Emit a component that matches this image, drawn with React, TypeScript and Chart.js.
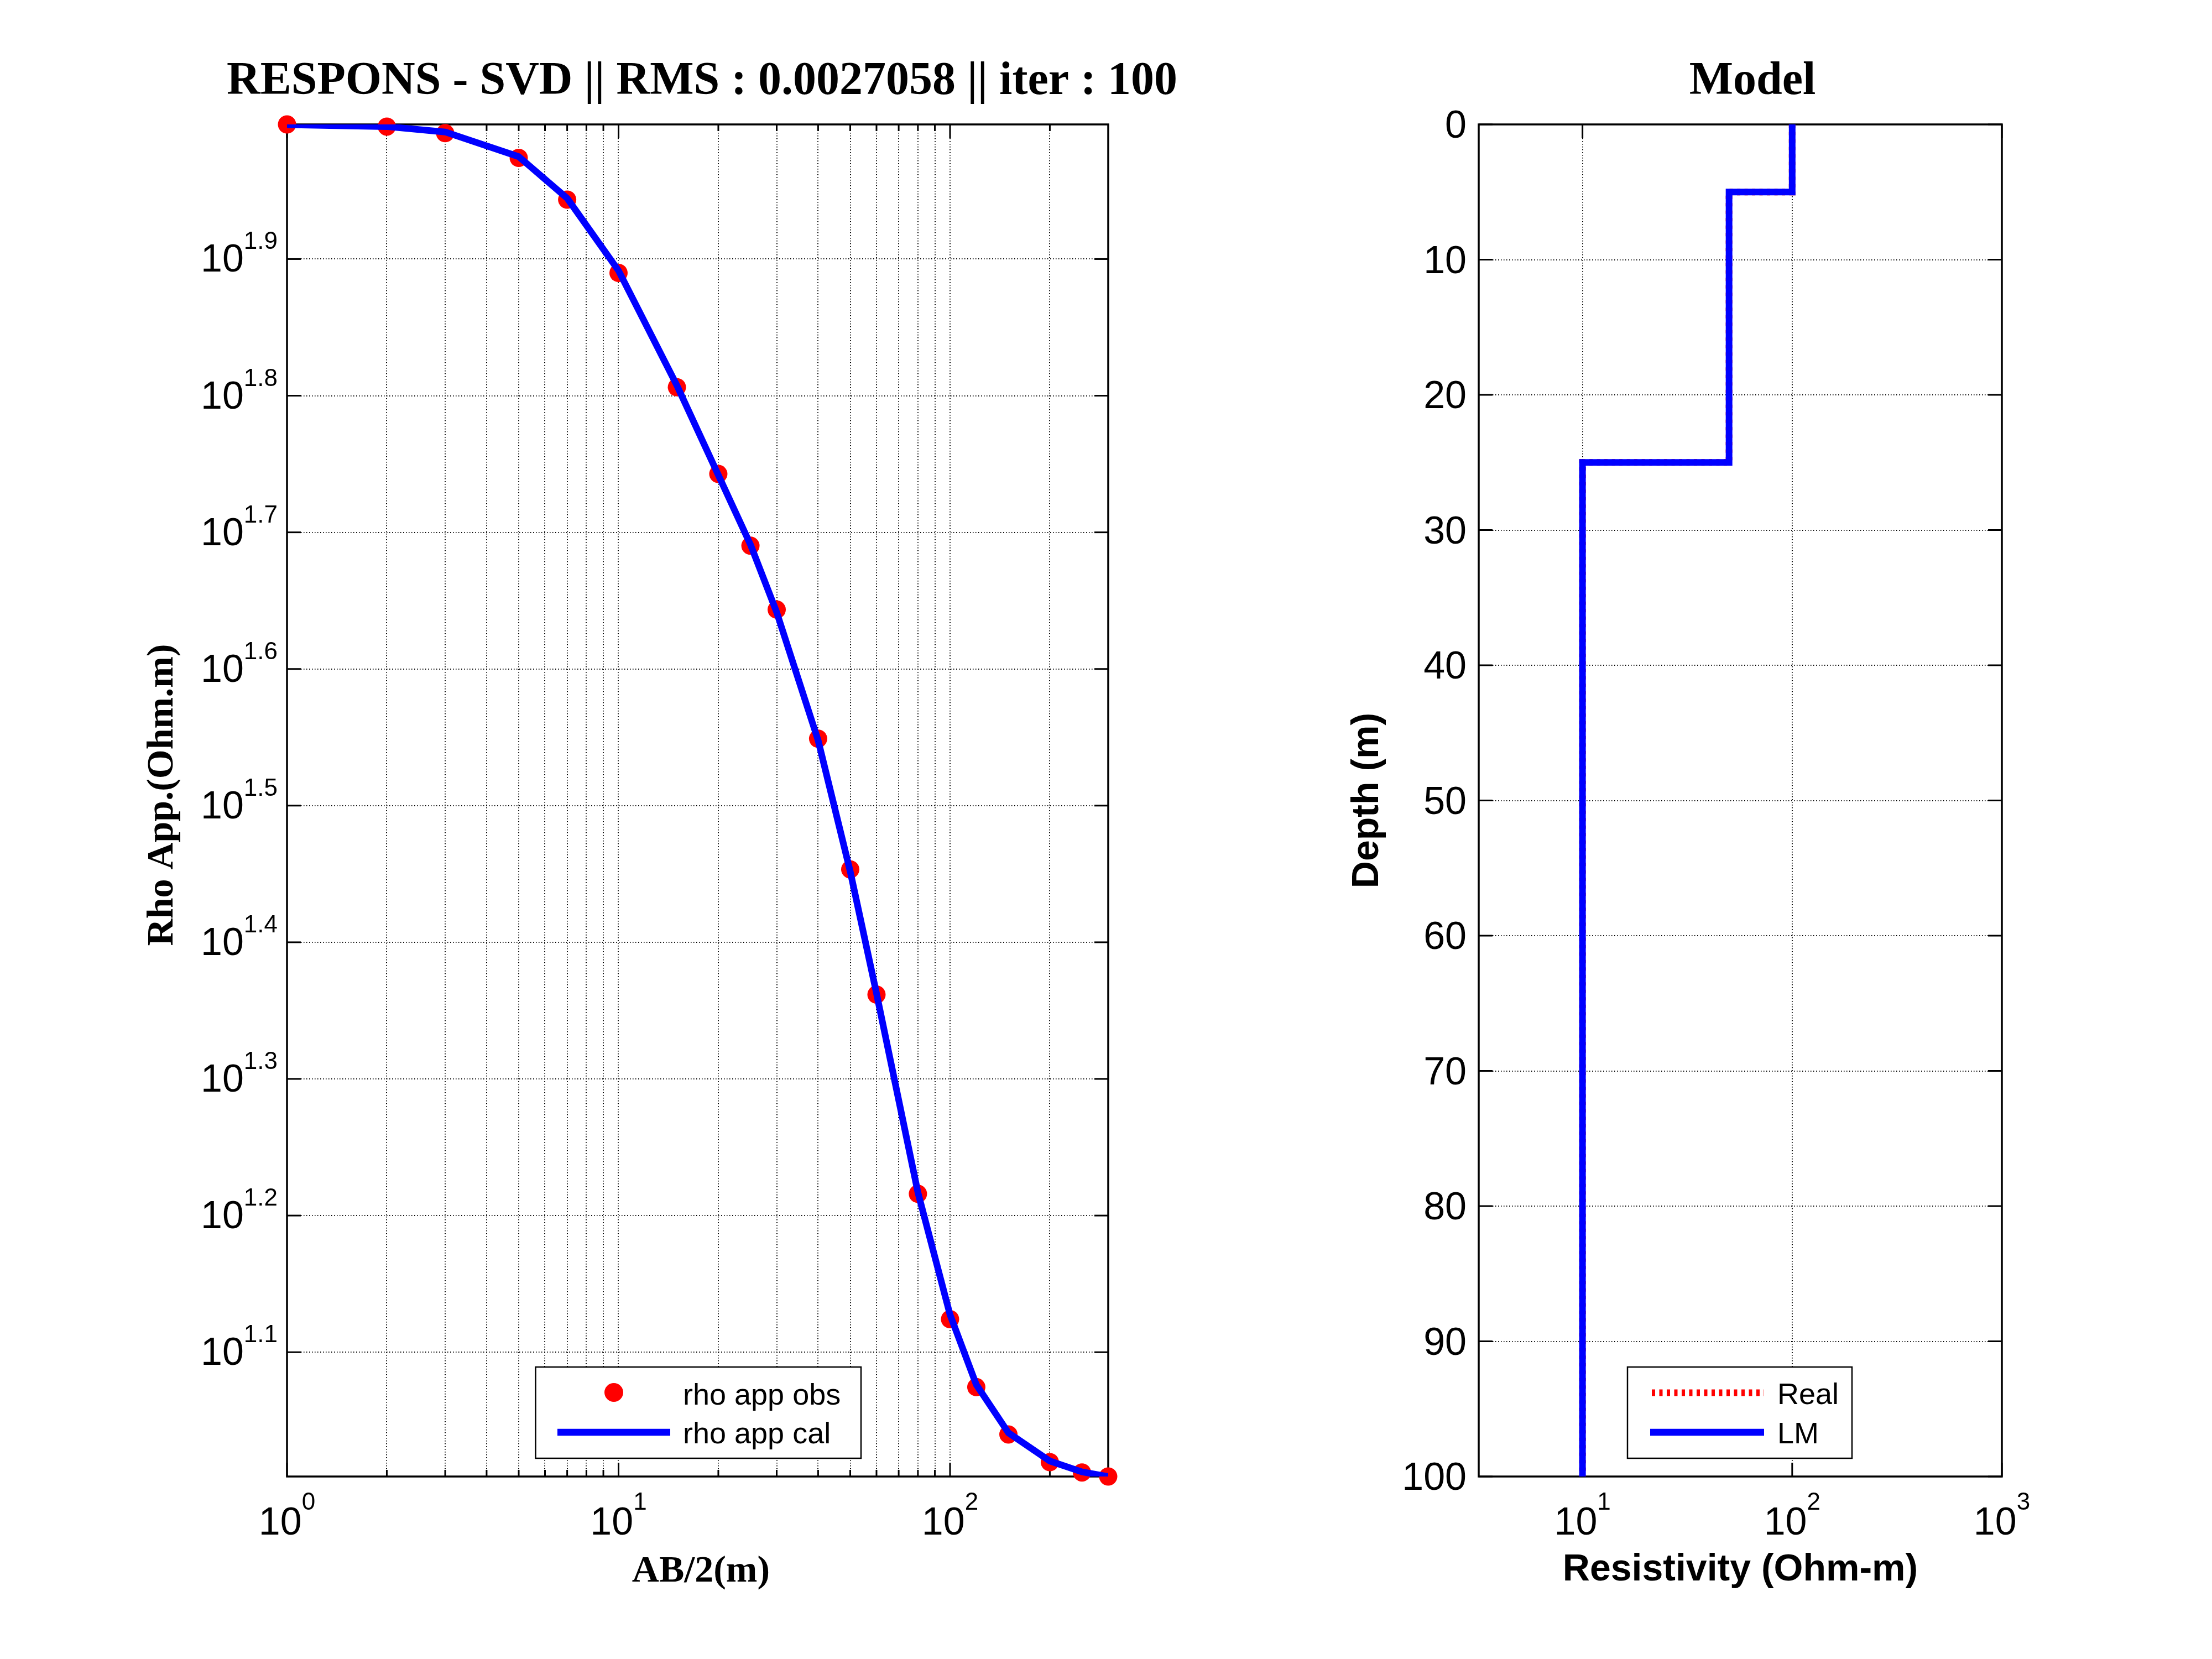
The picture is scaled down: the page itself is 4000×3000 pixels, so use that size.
import React, { useEffect, useRef } from "react";
import { Chart, registerables } from "chart.js";

Chart.register(...registerables);

// ---------------- Data: VES sounding curve ----------------
const ab2 = [1, 2, 3, 5, 7, 10, 15, 20, 25, 30, 40, 50, 60, 80, 100, 120, 150, 200, 250, 300];
const rhoObs = [99.66, 99.3, 98.2, 94.2, 87.8, 77.6, 64.0, 55.3, 49.0, 44.0, 35.4, 28.4, 23.0, 16.44, 13.31, 11.87, 10.96, 10.46, 10.28, 10.21];
const rhoCal = [99.62, 99.3, 98.4, 94.4, 88.0, 77.9, 64.2, 55.2, 49.1, 43.8, 35.3, 28.3, 23.05, 16.48, 13.41, 11.92, 10.99, 10.48, 10.29, 10.21];

// ---------------- Data: layered model ----------------
const layerRho = [100, 50, 10];
const realRho = [100, 50, 10];
const layerTop = [0, 5, 25];
const layerBottom = [5, 25, 100];

// ---------------- Ticks ----------------
const respXMajorExp = [0, 1, 2];
const respXMinor = [2, 3, 4, 5, 6, 7, 8, 9, 20, 30, 40, 50, 60, 70, 80, 90, 200];
const respXMin = 1;
const respXMax = 300;
const respYExp = [1.1, 1.2, 1.3, 1.4, 1.5, 1.6, 1.7, 1.8, 1.9];
const modelXExp = [1, 2, 3];
const modelXMin = 3.2;
const modelXMax = 1000;
const modelDepthTicks = [0, 10, 20, 30, 40, 50, 60, 70, 80, 90, 100];
const modelDepthMin = 0;
const modelDepthMax = 100;

// ---------------- Text ----------------
const respTitle = "RESPONS - SVD || RMS : 0.0027058 || iter : 100";
const respXLabel = "AB/2(m)";
const respYLabel = "Rho App.(Ohm.m)";
const modelTitle = "Model";
const modelXLabel = "Resistivity (Ohm-m)";
const modelYLabel = "Depth (m)";

const SANS = "'Liberation Sans', Arial, Helvetica, sans-serif";
const SERIF = "'Liberation Serif', 'Times New Roman', Times, serif";

function stepPoints(rho: number[], top: number[], bottom: number[]) {
  const pts: { x: number; y: number }[] = [];
  rho.forEach((r, i) => {
    pts.push({ x: r, y: top[i] });
    pts.push({ x: r, y: bottom[i] });
  });
  return pts;
}

function seg(ctx: CanvasRenderingContext2D, x1: number, y1: number, x2: number, y2: number) {
  ctx.beginPath();
  ctx.moveTo(x1, y1);
  ctx.lineTo(x2, y2);
  ctx.stroke();
}

function tickV(ctx: CanvasRenderingContext2D, px: number, a: any, len: number) {
  seg(ctx, px, a.top, px, a.top + len);
  seg(ctx, px, a.bottom, px, a.bottom - len);
}
function tickH(ctx: CanvasRenderingContext2D, py: number, a: any, len: number) {
  seg(ctx, a.left, py, a.left + len, py);
  seg(ctx, a.right, py, a.right - len, py);
}

function drawPow(
  ctx: CanvasRenderingContext2D,
  exp: string,
  x: number,
  align: "center" | "right",
  baseY: number,
  supY: number
) {
  ctx.textAlign = "left";
  ctx.textBaseline = "alphabetic";
  ctx.fillStyle = "#000";
  ctx.font = `70px ${SANS}`;
  const bw = ctx.measureText("10").width;
  ctx.font = `44px ${SANS}`;
  const ew = ctx.measureText(exp).width;
  const x0 = align === "center" ? x - (bw + ew) / 2 : x - (bw + ew);
  ctx.font = `70px ${SANS}`;
  ctx.fillText("10", x0, baseY);
  ctx.font = `44px ${SANS}`;
  ctx.fillText(exp, x0 + bw, supY);
}

function rotText(ctx: CanvasRenderingContext2D, text: string, x: number, y: number, font: string) {
  ctx.save();
  ctx.translate(x, y);
  ctx.rotate(-Math.PI / 2);
  ctx.font = font;
  ctx.textAlign = "center";
  ctx.textBaseline = "alphabetic";
  ctx.fillStyle = "#000";
  ctx.fillText(text, 0, 0);
  ctx.restore();
}

const gridOpts = { color: "#000", lineWidth: 2, drawTicks: false };
const borderOpts = { display: false, dash: [1.5, 3.5] };

const respDecor = {
  id: "respDecor",
  beforeDatasetsDraw(chart: any) {
    const { ctx, chartArea: a, scales } = chart;
    const xs = scales.x;
    const ys = scales.y;
    ctx.save();
    ctx.strokeStyle = "#000";
    ctx.lineCap = "butt";
    ctx.setLineDash([]);
    ctx.lineWidth = 3;
    respXMajorExp.forEach((e) => tickV(ctx, xs.getPixelForValue(Math.pow(10, e)), a, 25));
    respXMinor.forEach((v) => tickV(ctx, xs.getPixelForValue(v), a, 12));
    respYExp.forEach((e) => tickH(ctx, ys.getPixelForValue(Math.pow(10, e)), a, 25));
    ctx.lineWidth = 3.5;
    ctx.strokeRect(a.left, a.top, a.right - a.left, a.bottom - a.top);
    ctx.restore();
  },
  afterDraw(chart: any) {
    const { ctx, chartArea: a, scales } = chart;
    const xs = scales.x;
    const ys = scales.y;
    const cx = (a.left + a.right) / 2;
    ctx.save();
    ctx.setLineDash([]);
    // title
    ctx.fillStyle = "#000";
    ctx.font = `bold 84px ${SERIF}`;
    ctx.textAlign = "center";
    ctx.textBaseline = "alphabetic";
    ctx.fillText(respTitle, cx + 8, a.top - 55);
    // tick labels
    respXMajorExp.forEach((e) =>
      drawPow(ctx, String(e), xs.getPixelForValue(Math.pow(10, e)), "center", a.bottom + 105, a.bottom + 60)
    );
    respYExp.forEach((e) => {
      const py = ys.getPixelForValue(Math.pow(10, e));
      drawPow(ctx, e.toFixed(1), a.left - 17, "right", py + 23, py - 18);
    });
    // axis labels
    ctx.font = `bold 68px ${SERIF}`;
    ctx.textAlign = "center";
    ctx.fillStyle = "#000";
    ctx.fillText(respXLabel, cx + 6, a.bottom + 190);
    rotText(ctx, respYLabel, a.left - 207, (a.top + a.bottom) / 2 - 10, `bold 68px ${SERIF}`);
    // legend
    const ds = chart.data.datasets;
    const bx = 968.5, by = 2472, bw = 588.5, bh = 165;
    ctx.fillStyle = "#fff";
    ctx.fillRect(bx, by, bw, bh);
    ctx.strokeStyle = "#000";
    ctx.lineWidth = 2.5;
    ctx.strokeRect(bx, by, bw, bh);
    ctx.fillStyle = ds[0].pointBackgroundColor;
    ctx.beginPath();
    ctx.arc(1110, 2518, 17, 0, Math.PI * 2);
    ctx.fill();
    ctx.strokeStyle = ds[1].borderColor;
    ctx.lineWidth = 12.5;
    seg(ctx, 1008, 2590, 1212, 2590);
    ctx.fillStyle = "#000";
    ctx.font = `54px ${SANS}`;
    ctx.textAlign = "left";
    ctx.fillText(ds[0].label, 1235, 2540);
    ctx.fillText(ds[1].label, 1235, 2610);
    ctx.restore();
  },
};

const OX = 2300;

const modelDecor = {
  id: "modelDecor",
  beforeDatasetsDraw(chart: any) {
    const { ctx, chartArea: a, scales } = chart;
    const xs = scales.x;
    const ys = scales.y;
    ctx.save();
    ctx.strokeStyle = "#000";
    ctx.lineCap = "butt";
    ctx.setLineDash([]);
    ctx.lineWidth = 3;
    modelXExp.forEach((e) => tickV(ctx, xs.getPixelForValue(Math.pow(10, e)), a, 25));
    modelDepthTicks.forEach((d) => tickH(ctx, ys.getPixelForValue(d), a, 25));
    ctx.lineWidth = 3.5;
    ctx.strokeRect(a.left, a.top, a.right - a.left, a.bottom - a.top);
    ctx.restore();
  },
  afterDraw(chart: any) {
    const { ctx, chartArea: a, scales } = chart;
    const xs = scales.x;
    const ys = scales.y;
    const cx = (a.left + a.right) / 2;
    ctx.save();
    ctx.setLineDash([]);
    ctx.fillStyle = "#000";
    ctx.font = `bold 84px ${SERIF}`;
    ctx.textAlign = "center";
    ctx.textBaseline = "alphabetic";
    ctx.fillText(modelTitle, cx + 22, a.top - 55);
    modelXExp.forEach((e) =>
      drawPow(ctx, String(e), xs.getPixelForValue(Math.pow(10, e)), "center", a.bottom + 105, a.bottom + 60)
    );
    ctx.font = `70px ${SANS}`;
    ctx.textAlign = "right";
    ctx.fillStyle = "#000";
    modelDepthTicks.forEach((d) => {
      const py = ys.getPixelForValue(d);
      ctx.fillText(String(d), a.left - 22, py + 24);
    });
    ctx.font = `bold 68px ${SANS}`;
    ctx.textAlign = "center";
    ctx.fillText(modelXLabel, cx, a.bottom + 188);
    rotText(ctx, modelYLabel, a.left - 182, (a.top + a.bottom) / 2, `bold 68px ${SANS}`);
    // legend
    const ds = chart.data.datasets;
    const bx = 2943 - OX, by = 2472, bw = 406, bh = 165;
    ctx.fillStyle = "#fff";
    ctx.fillRect(bx, by, bw, bh);
    ctx.strokeStyle = "#000";
    ctx.lineWidth = 2.5;
    ctx.strokeRect(bx, by, bw, bh);
    ctx.lineCap = "butt";
    ctx.strokeStyle = ds[1].borderColor;
    ctx.lineWidth = 12;
    ctx.setLineDash(ds[1].borderDash);
    seg(ctx, 2987 - OX, 2518.5, 3190 - OX, 2518.5);
    ctx.setLineDash([]);
    ctx.strokeStyle = ds[0].borderColor;
    ctx.lineWidth = 12.5;
    seg(ctx, 2984 - OX, 2590, 3190 - OX, 2590);
    ctx.fillStyle = "#000";
    ctx.font = `54px ${SANS}`;
    ctx.textAlign = "left";
    ctx.fillText(ds[1].label, 3214 - OX, 2539);
    ctx.fillText(ds[0].label, 3214 - OX, 2610);
    ctx.restore();
  },
};

function ResponseChart() {
  const ref = useRef<HTMLCanvasElement | null>(null);
  useEffect(() => {
    if (!ref.current) return;
    const chart = new Chart(ref.current, {
      type: "scatter",
      data: {
        datasets: [
          {
            label: "rho app obs",
            data: ab2.map((x, i) => ({ x, y: rhoObs[i] })),
            showLine: false,
            pointRadius: 16.5,
            pointBackgroundColor: "#ff0000",
            pointBorderColor: "#ff0000",
            pointBorderWidth: 0,
            clip: false,
            order: 2,
          } as any,
          {
            label: "rho app cal",
            data: ab2.map((x, i) => ({ x, y: rhoCal[i] })),
            showLine: true,
            borderColor: "#0000ff",
            borderWidth: 12,
            borderJoinStyle: "round",
            pointRadius: 0,
            fill: false,
            tension: 0,
            order: 1,
          } as any,
        ],
      },
      options: {
        responsive: false,
        devicePixelRatio: 1,
        animation: false,
        events: [],
        layout: { padding: { left: 0, top: 225, right: 296, bottom: 0 } },
        plugins: { legend: { display: false }, tooltip: { enabled: false }, title: { display: false } },
        scales: {
          x: {
            type: "logarithmic",
            min: respXMin,
            max: respXMax,
            grid: gridOpts,
            border: borderOpts,
            ticks: { display: false, autoSkip: false },
            afterBuildTicks: (s: any) => {
              s.ticks = [...respXMajorExp.map((e) => Math.pow(10, e)), ...respXMinor].map((v) => ({ value: v }));
            },
            afterFit: (s: any) => {
              s.height = 330;
            },
          },
          y: {
            type: "logarithmic",
            min: Math.min(...rhoObs),
            max: Math.max(...rhoObs),
            grid: gridOpts,
            border: borderOpts,
            ticks: { display: false, autoSkip: false },
            afterBuildTicks: (s: any) => {
              s.ticks = respYExp.map((e) => ({ value: Math.pow(10, e) }));
            },
            afterFit: (s: any) => {
              s.width = 519;
            },
          },
        },
      } as any,
      plugins: [respDecor],
    });
    return () => chart.destroy();
  }, []);
  return <canvas ref={ref} width={2300} height={3000} style={{ position: "absolute", left: 0, top: 0 }} />;
}

function ModelChart() {
  const ref = useRef<HTMLCanvasElement | null>(null);
  useEffect(() => {
    if (!ref.current) return;
    const chart = new Chart(ref.current, {
      type: "scatter",
      data: {
        datasets: [
          {
            label: "LM",
            data: stepPoints(layerRho, layerTop, layerBottom),
            showLine: true,
            borderColor: "#0000ff",
            borderWidth: 12,
            borderJoinStyle: "miter",
            pointRadius: 0,
            fill: false,
            order: 1,
          } as any,
          {
            label: "Real",
            data: stepPoints(realRho, layerTop, layerBottom),
            showLine: true,
            borderColor: "#ff0000",
            borderWidth: 12,
            borderDash: [6, 7.5],
            pointRadius: 0,
            fill: false,
            order: 2,
          } as any,
        ],
      },
      options: {
        responsive: false,
        devicePixelRatio: 1,
        animation: false,
        events: [],
        layout: { padding: { left: 0, top: 225, right: 380, bottom: 0 } },
        plugins: { legend: { display: false }, tooltip: { enabled: false }, title: { display: false } },
        scales: {
          x: {
            type: "logarithmic",
            min: modelXMin,
            max: modelXMax,
            grid: gridOpts,
            border: borderOpts,
            ticks: { display: false, autoSkip: false },
            afterBuildTicks: (s: any) => {
              s.ticks = modelXExp.map((e) => ({ value: Math.pow(10, e) }));
            },
            afterFit: (s: any) => {
              s.height = 330;
            },
          },
          y: {
            type: "linear",
            reverse: true,
            min: modelDepthMin,
            max: modelDepthMax,
            grid: gridOpts,
            border: borderOpts,
            ticks: { display: false, autoSkip: false },
            afterBuildTicks: (s: any) => {
              s.ticks = modelDepthTicks.map((d) => ({ value: d }));
            },
            afterFit: (s: any) => {
              s.width = 374;
            },
          },
        },
      } as any,
      plugins: [modelDecor],
    });
    return () => chart.destroy();
  }, []);
  return <canvas ref={ref} width={1700} height={3000} style={{ position: "absolute", left: OX, top: 0 }} />;
}

export default function App() {
  return (
    <div style={{ position: "absolute", left: 0, top: 0, width: 4000, height: 3000, background: "#fff", overflow: "hidden" }}>
      <ResponseChart />
      <ModelChart />
    </div>
  );
}
